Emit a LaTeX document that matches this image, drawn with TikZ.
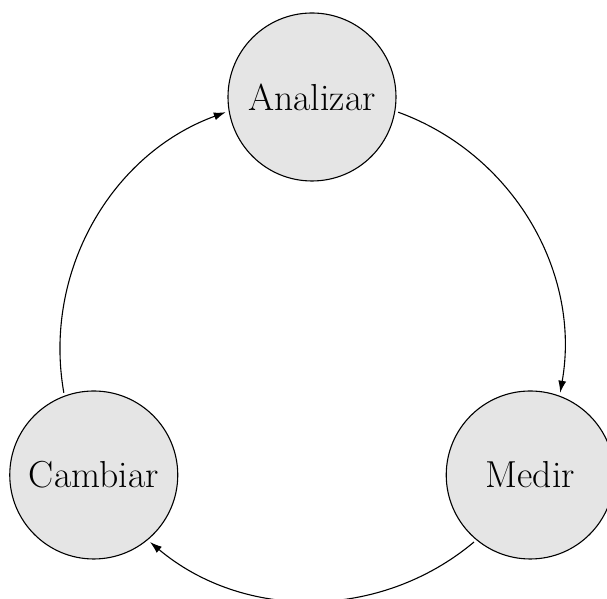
\documentclass[tikz,border=0pt]{standalone}
\usetikzlibrary{arrows.meta,calc}
\begin{document}
\begin{tikzpicture}[
  x=1pt, y=1pt, line width=0.55pt,
  stage/.style={circle, draw=black, fill=gray!20, minimum size=84pt,
                inner sep=0pt, font=\fontsize{18.8}{22}\selectfont},
  cycle/.style={-{Latex[length=6pt,width=4pt]}}
]
\useasboundingbox (0,0) rectangle (303.5,299.5);
% centre of the cycle and its radius
\coordinate (o) at (156,125);
\def\rad{126}
\node[stage] (analizar) at ($(o)+(90:\rad)$)  {Analizar};
\node[stage] (medir)    at ($(o)+(-30:\rad)$) {Medir};
\node[stage] (cambiar)  at ($(o)+(210:\rad)$) {Cambiar};
% ends of the arcs, 20 degrees away from each stage
\coordinate (a-out) at ($(o)+(70:\rad)$);
\coordinate (m-out) at ($(o)+(-50:\rad)$);
\coordinate (c-out) at ($(o)+(190:\rad)$);
\draw[cycle] (a-out) arc[start angle=70,  end angle=-10, radius=\rad];
\draw[cycle] (m-out) arc[start angle=-50, end angle=-130, radius=\rad];
\draw[cycle] (c-out) arc[start angle=190, end angle=110, radius=\rad];
\end{tikzpicture}
\end{document}
